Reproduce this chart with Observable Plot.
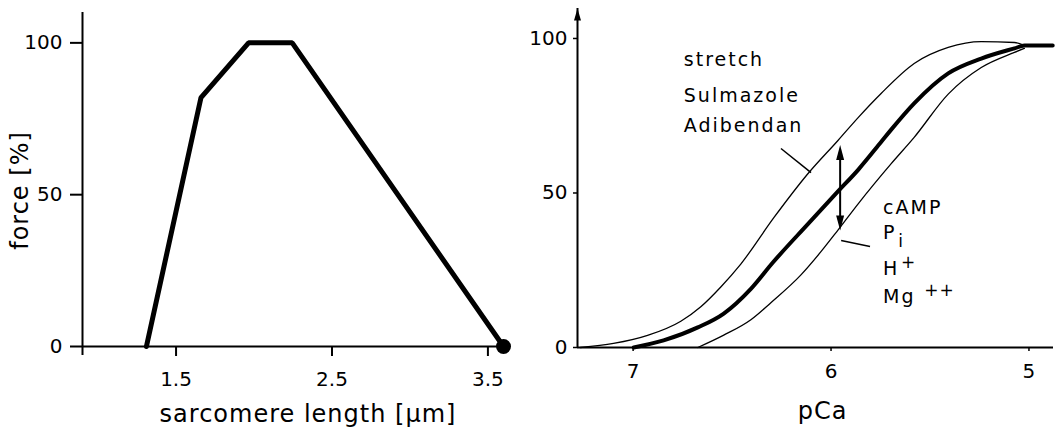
<!DOCTYPE html>
<html><head><meta charset="utf-8">
<script src="https://cdn.jsdelivr.net/npm/d3@7"></script>
<script src="https://cdn.jsdelivr.net/npm/@observablehq/plot@0.6"></script>
<style>
body{margin:0;background:#fff;}
#wrap{position:relative;width:1057px;height:430px;overflow:hidden;background:#fff;}
#left{position:absolute;left:0;top:0;}
#right{position:absolute;left:530px;top:0;}
</style></head><body><div id="wrap"><div id="left"></div><div id="right"></div></div>
<script>
// ---------- Left panel: force vs sarcomere length ----------
const sarcomereLength = [1.31, 1.66, 1.965, 2.245, 3.6];
const forcePct = [0, 82, 100, 100, 0];
const lengthTicks = [1.5, 2.5, 3.5];
const lengthTickLabels = ["1.5", "2.5", "3.5"];
const forceTicks = [0, 50, 100];
const leftXLabel = "sarcomere length [µm]";
const leftYLabel = "force [%]";

// ---------- Right panel: force vs pCa ----------
const pcaTicks = [7, 6, 5];
const pcaTickLabels = ["7", "6", "5"];
const rightForceTicks = [0, 50, 100];
const rightXLabel = "pCa";
// control (thick) curve
const controlPCa   = [6.997, 6.846, 6.673, 6.542, 6.405, 6.294, 6.116, 5.965, 5.863, 5.747, 5.696, 5.580, 5.408, 5.241, 5.073, 5.023, 4.88];
const controlForce = [0,     2.3,   6.5,   11,    19,    27.5,  40,    50.5,  57.5,  66.5,  70.5,  79,    88.7,  93.5,  96.8,  97.7,  97.7];
// sensitised (left thin) curve: stretch, Sulmazole, Adibendan
const sensPCa   = [7.266, 7.099, 6.927, 6.759, 6.658, 6.557, 6.456, 6.289, 6.116, 5.965, 5.863, 5.747, 5.580, 5.408, 5.241, 5.073, 5.023];
const sensForce = [0,     1.3,   3.9,   8.5,   13.2,  19.6,  27,    42,    56.3,  67,    74.4,  82.2,  91.9,  97.1,  99,    98.7,  97.7];
// desensitised (right thin) curve: cAMP, Pi, H+, Mg++
const desPCa   = [6.673, 6.542, 6.405, 6.304, 6.152, 6.051, 5.965, 5.863, 5.696, 5.580, 5.408, 5.241, 5.073, 5.023];
const desForce = [0,     4,     9,     14.5,  23.5,  31,    38,    46.5,  59.5,  68,    82,    90.6,  95.5,  96.8];
// annotations
const upperLabels = ["stretch", "Sulmazole", "Adibendan"];
const upperLabelPCa = [6.744, 6.744, 6.744];
const upperLabelForce = [93.2, 81.3, 71.6];
const lowerLabels = ["cAMP", "P", "H", "Mg"];
const lowerLabelPCa = [5.737, 5.737, 5.737, 5.737];
const lowerLabelForce = [45.3, 37.2, 25.3, 16.5];
const scriptLabels = ["i", "+", "++"];
const scriptPCa = [5.661, 5.646, 5.529];
const scriptForce = [34.4, 27.5, 18.4];
const upperLeader = {x1: 6.253, y1: 64.4, x2: 6.101, y2: 56.6};
const lowerLeader = {x1: 5.949, y1: 34.6, x2: 5.803, y2: 32.7};
const shiftArrow = {x: 5.954, top: 65.5, bottom: 37.9};

const FONT = "'DejaVu Sans', sans-serif";

// narrow arrowhead symbol, tip at origin pointing up
const arrowHead = (len, half) => ({draw(ctx) { ctx.moveTo(0, 0); ctx.lineTo(half, len); ctx.lineTo(-half, len); ctx.closePath(); }});

const left = Plot.plot({
  width: 530, height: 430,
  marginLeft: 82, marginRight: 27, marginTop: 12, marginBottom: 84,
  x: {domain: [0.9, 3.6]},
  y: {domain: [0, 110]},
  style: {fontFamily: FONT, fontSize: "20px", color: "#000", background: "#fff", overflow: "visible"},
  marks: [
    Plot.ruleY([0], {stroke: "#000", strokeWidth: 2}),
    Plot.ruleX([0.9], {stroke: "#000", strokeWidth: 2, insetBottom: -9}),
    Plot.axisY({ticks: forceTicks, tickSize: 12, tickPadding: 8, strokeWidth: 2, label: null, fontSize: 20}),
    Plot.axisX({ticks: lengthTicks, tickFormat: (d, i) => lengthTickLabels[i], tickSize: 10, tickPadding: 15, strokeWidth: 2, label: null, fontSize: 20}),
    Plot.line(sarcomereLength.map((x, i) => ({x, y: forcePct[i]})), {x: "x", y: "y", stroke: "#000", strokeWidth: 5, strokeLinejoin: "miter"}),
    Plot.dot([{x: sarcomereLength[4], y: forcePct[4]}], {x: "x", y: "y", r: 7.5, fill: "#000"}),
    Plot.text([leftXLabel], {frameAnchor: "bottom", textAnchor: "middle", dx: 15, dy: 68, fontSize: 24, lineAnchor: "middle"}),
    Plot.text([leftYLabel], {frameAnchor: "left", textAnchor: "middle", rotate: -90, dx: -62, dy: 11, fontSize: 24, lineAnchor: "middle"})
  ]
});
document.getElementById("left").appendChild(left);

const right = Plot.plot({
  width: 527, height: 430,
  marginLeft: 47, marginRight: 4, marginTop: 8, marginBottom: 83,
  x: {domain: [7.281, 4.876]},
  y: {domain: [0, 109.7]},
  style: {fontFamily: FONT, fontSize: "20px", color: "#000", background: "#fff", overflow: "visible"},
  marks: [
    Plot.ruleY([0], {stroke: "#000", strokeWidth: 2}),
    Plot.ruleX([7.281], {stroke: "#000", strokeWidth: 2}),
    Plot.dot([{x: 7.281, y: 109.7}], {x: "x", y: "y", r: 3, symbol: arrowHead(12, 3.5), fill: "#000", stroke: "none"}),
    Plot.axisY({ticks: rightForceTicks, tickSize: 4, tickPadding: 6, strokeWidth: 1.5, label: null, fontSize: 20}),
    Plot.axisX({ticks: pcaTicks, tickFormat: (d, i) => pcaTickLabels[i], tickSize: 4, tickPadding: 12, strokeWidth: 1.5, label: null, fontSize: 20}),
    Plot.line(sensPCa.map((x, i) => ({x, y: sensForce[i]})), {x: "x", y: "y", stroke: "#000", strokeWidth: 1.3, curve: "monotone-x"}),
    Plot.line(desPCa.map((x, i) => ({x, y: desForce[i]})), {x: "x", y: "y", stroke: "#000", strokeWidth: 1.3, curve: "monotone-x"}),
    Plot.line(controlPCa.map((x, i) => ({x, y: controlForce[i]})), {x: "x", y: "y", stroke: "#000", strokeWidth: 4, curve: "monotone-x", strokeLinecap: "round"}),
    Plot.link([upperLeader, lowerLeader], {x1: "x1", y1: "y1", x2: "x2", y2: "y2", stroke: "#000", strokeWidth: 1.5}),
    Plot.link([shiftArrow], {x1: "x", x2: "x", y1: d => d.top - 3, y2: d => d.bottom + 3, stroke: "#000", strokeWidth: 2}),
    Plot.dot([shiftArrow], {x: "x", y: "top", r: 3, symbol: arrowHead(15, 4), fill: "#000", stroke: "none"}),
    Plot.dot([shiftArrow], {x: "x", y: "bottom", r: 3, rotate: 180, symbol: arrowHead(15, 4), fill: "#000", stroke: "none"}),
    Plot.text(upperLabels, {x: (d, i) => upperLabelPCa[i], y: (d, i) => upperLabelForce[i], text: d => d, textAnchor: "start", lineAnchor: "middle", fontSize: 19}),
    Plot.text(lowerLabels, {x: (d, i) => lowerLabelPCa[i], y: (d, i) => lowerLabelForce[i], text: d => d, textAnchor: "start", lineAnchor: "middle", fontSize: 19}),
    Plot.text(scriptLabels, {x: (d, i) => scriptPCa[i], y: (d, i) => scriptForce[i], text: d => d, textAnchor: "start", lineAnchor: "middle", fontSize: 17}),
    Plot.text([rightXLabel], {frameAnchor: "bottom", textAnchor: "middle", dx: 7, dy: 64, fontSize: 24, lineAnchor: "middle"})
  ]
});
document.getElementById("right").appendChild(right);

// letter spacing to mimic the wide lettering of the original
const spacing = {"24": "1px", "19": "2px", "17": "1px"};
for (const svg of [left, right]) {
  d3.select(svg).selectAll('g[aria-label="text"]').each(function () {
    const fs = this.getAttribute("font-size");
    if (spacing[fs]) this.style.letterSpacing = spacing[fs];
  });
}
</script></body></html>
